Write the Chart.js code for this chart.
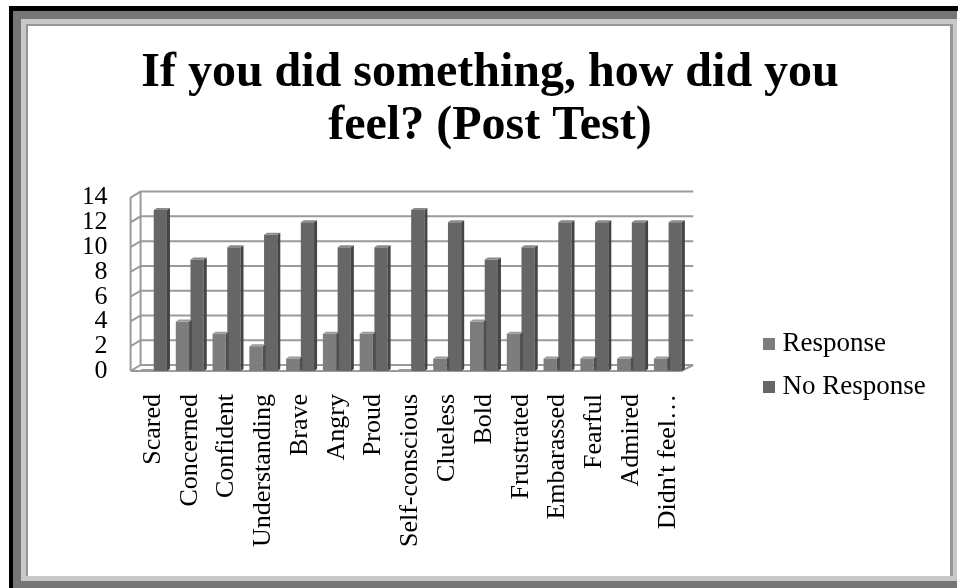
<!DOCTYPE html>
<html>
<head>
<meta charset="utf-8">
<style>
    html, body { margin: 0; background: #fff; width: 958px; height: 588px; overflow: hidden; }
    .frame { position: absolute; box-sizing: border-box; }
    #f1 { left: 9px; top: 6px; width: 949px; height: 582px; background: #000; clip-path: polygon(0 0, 100% 0, 100% 5px, 4px 5px, 4px 100%, 0 100%); }
    #f2 { left: 13px; top: 11px; width: 944px; height: 577px; border: 8px solid #757575; border-right-width: 0; }
    #f3 { left: 21px; top: 19px; width: 936px; height: 562px; border: 5px solid #c8c8c8; border-right-width: 4px; }
    #f4 { left: 26px; top: 24px; width: 927px; height: 552px; border: 2px solid #969696; border-bottom: 0; border-right-width: 3px; }
    canvas { position: absolute; left: 0; top: 0; filter: blur(0.4px); }
</style>
</head>
<body>
<div class="frame" id="f1"></div>
<div class="frame" id="f2"></div>
<div class="frame" id="f3"></div>
<div class="frame" id="f4"></div>
<canvas id="feelChart" width="958" height="588"></canvas>
<script src="https://cdn.jsdelivr.net/npm/chart.js@4"></script>
<script>
const titleLines = ['If you did something, how did you', 'feel? (Post Test)'];
const categories = ['Scared', 'Concerned', 'Confident', 'Understanding', 'Brave', 'Angry', 'Proud',
    'Self-conscious', 'Clueless', 'Bold', 'Frustrated', 'Embarassed', 'Fearful', 'Admired', "Didn't feel\u2026"];
const responseValues = [0, 4, 3, 2, 1, 3, 3, 0, 1, 4, 3, 1, 1, 1, 1];
const noResponseValues = [13, 9, 10, 11, 12, 10, 10, 13, 12, 9, 10, 12, 12, 12, 12];

const serif = "'Liberation Serif', serif";

// little square for the legend, a canvas so the text can sit close to it
function legendSquare(color) {
    const c = document.createElement('canvas');
    c.width = 12;
    c.height = 12;
    const g = c.getContext('2d');
    g.fillStyle = color;
    g.fillRect(0, 0, 12, 12);
    return c;
}

// draws the fake 3D walls behind the bars
const wallsPlugin = {
    id: 'walls',
    beforeDatasetsDraw(chart) {
        const { ctx, chartArea: area, scales: { y } } = chart;
        const frontX = area.left - 4, backX = area.left + 6, endX = area.right + 7;
        ctx.save();
        ctx.strokeStyle = '#9a9a9a';
        ctx.lineWidth = 2;
        ctx.beginPath();
        ctx.moveTo(frontX, y.getPixelForValue(0));
        ctx.lineTo(frontX, y.getPixelForValue(14));
        ctx.moveTo(backX, y.getPixelForValue(0) - 6);
        ctx.lineTo(backX, y.getPixelForValue(14) - 6);
        y.ticks.forEach(t => {
            const py = y.getPixelForValue(t.value);
            ctx.moveTo(frontX, py);
            ctx.lineTo(backX, py - 6);
            ctx.lineTo(endX, py - 6);
        });
        ctx.moveTo(frontX, y.getPixelForValue(0));
        ctx.lineTo(endX - 12, y.getPixelForValue(0));
        ctx.lineTo(endX, y.getPixelForValue(0) - 6);
        ctx.stroke();
        ctx.restore();
    },
    afterDatasetsDraw(chart) {
        // side and top faces of each bar
        const { ctx } = chart;
        const sides = ['#4f4f4f', '#444444'];
        const tops = ['#9a9a9a', '#8a8a8a'];
        const dx = 3, dy = 2;
        chart.data.datasets.forEach((ds, i) => {
            chart.getDatasetMeta(i).data.forEach(bar => {
                const right = bar.x + bar.width / 2, left = bar.x - bar.width / 2;
                ctx.fillStyle = sides[i];
                ctx.beginPath();
                ctx.moveTo(right, bar.y);
                ctx.lineTo(right + dx, bar.y - dy);
                ctx.lineTo(right + dx, bar.base - dy);
                ctx.lineTo(right, bar.base);
                ctx.fill();
                ctx.fillStyle = tops[i];
                ctx.beginPath();
                ctx.moveTo(left, bar.y);
                ctx.lineTo(left + dx, bar.y - dy);
                ctx.lineTo(right + dx, bar.y - dy);
                ctx.lineTo(right, bar.y);
                ctx.fill();
            });
        });
    }
};

// legend sits lower than Chart.js would put it, title is centred on the slide not the plot
const placementPlugin = {
    id: 'placement',
    afterLayout(chart) {
        const legend = chart.legend;
        legend.left = 752;
        legend.right = 950;
        legend.top = 314;
        legend.bottom = 480;
        chart.titleBlock.left = 100;
        chart.titleBlock.right = 880;
    }
};

new Chart(document.getElementById('feelChart').getContext('2d'), {
    type: 'bar',
    plugins: [wallsPlugin, placementPlugin],
    data: {
        labels: categories,
        datasets: [
            { label: 'Response', data: responseValues, backgroundColor: '#7d7d7d', pointStyle: legendSquare('#7d7d7d') },
            { label: 'No Response', data: noResponseValues, backgroundColor: '#666666', pointStyle: legendSquare('#666666') }
        ]
    },
    options: {
        responsive: false,
        animation: false,
        layout: { padding: { left: 84.6, right: 88, top: 0, bottom: 9 } },
        plugins: {
            title: {
                display: true,
                text: titleLines,
                color: '#000',
                font: { family: serif, size: 48, weight: 'bold', lineHeight: 1.1 },
                padding: { top: 47.6, bottom: 44.4 }
            },
            legend: {
                position: 'right',
                align: 'start',
                labels: {
                    color: '#000',
                    font: { family: serif, size: 27 },
                    usePointStyle: true,
                    pointStyleWidth: 1,
                    padding: 16
                }
            },
            tooltip: { enabled: false }
        },
        scales: {
            x: {
                categoryPercentage: 0.55,
                barPercentage: 1,
                grid: { display: false },
                border: { display: false },
                afterFit(scale) { scale.height = 208; },
                ticks: {
                    color: '#000',
                    font: { family: serif, size: 26 },
                    minRotation: 90,
                    maxRotation: 90,
                    autoSkip: false,
                    padding: 15
                }
            },
            y: {
                min: 0,
                max: 14,
                afterFit(scale) { scale.width = 50; },
                ticks: { stepSize: 2, autoSkip: false, color: '#000', font: { family: serif, size: 26 }, padding: 27 },
                grid: { display: false, drawTicks: false },
                border: { display: false }
            }
        }
    }
});
</script>
</body>
</html>
